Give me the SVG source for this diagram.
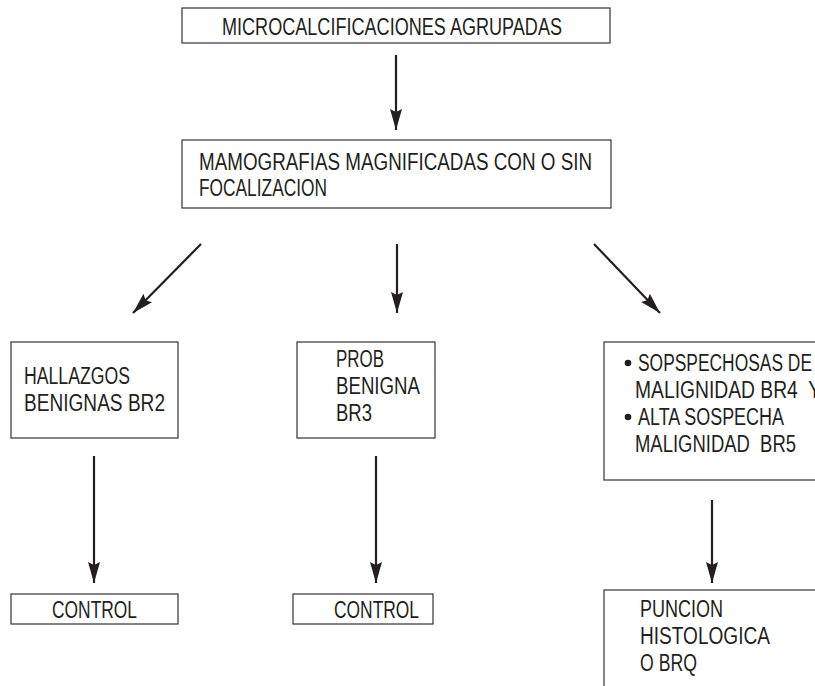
<svg xmlns="http://www.w3.org/2000/svg" width="815" height="686" viewBox="0 0 815 686">
<style>
.box{fill:#fff;stroke:#333;stroke-width:1.2}
.t{font-family:"Liberation Sans Narrow","Liberation Sans","DejaVu Sans Condensed",sans-serif;font-size:23px;fill:#231f20;white-space:pre}
.c{stroke:#231f20;stroke-width:2.2;fill:none}
</style>
<defs>
<marker id="ah" markerUnits="userSpaceOnUse" markerWidth="24" markerHeight="14" refX="21" refY="6" orient="auto">
<path d="M0,0 L21,6 L0,12 L3,6 z" fill="#231f20"/>
</marker>
</defs>
<rect width="815" height="686" fill="#fff"/>
<g id="connectors">
<line class="c" x1="396" y1="55" x2="396" y2="130" marker-end="url(#ah)"/>
<line class="c" x1="201" y1="244" x2="133" y2="313" marker-end="url(#ah)"/>
<line class="c" x1="397" y1="244" x2="397" y2="313" marker-end="url(#ah)"/>
<line class="c" x1="594" y1="244" x2="660" y2="313" marker-end="url(#ah)"/>
<line class="c" x1="94" y1="456" x2="94" y2="583" marker-end="url(#ah)"/>
<line class="c" x1="376" y1="456" x2="376" y2="583" marker-end="url(#ah)"/>
<line class="c" x1="712" y1="500" x2="712" y2="583" marker-end="url(#ah)"/>
</g>
<g id="n1">
<rect class="box" x="182" y="8" width="428" height="35"/>
<text class="t" x="222" y="35" textLength="340" lengthAdjust="spacingAndGlyphs">MICROCALCIFICACIONES AGRUPADAS</text>
</g>
<g id="n2">
<rect class="box" x="182" y="140" width="429" height="68"/>
<text class="t" x="199" y="170" textLength="393" lengthAdjust="spacingAndGlyphs">MAMOGRAFIAS MAGNIFICADAS CON O SIN</text>
<text class="t" x="199" y="196" textLength="128" lengthAdjust="spacingAndGlyphs">FOCALIZACION</text>
</g>
<g id="n3">
<rect class="box" x="11" y="342" width="167" height="96"/>
<text class="t" x="24" y="384" textLength="106" lengthAdjust="spacingAndGlyphs">HALLAZGOS</text>
<text class="t" x="24" y="411" textLength="141" lengthAdjust="spacingAndGlyphs">BENIGNAS BR2</text>
</g>
<g id="n4">
<rect class="box" x="297" y="342" width="138" height="96"/>
<text class="t" x="336" y="367" textLength="48" lengthAdjust="spacingAndGlyphs">PROB</text>
<text class="t" x="336" y="394" textLength="84" lengthAdjust="spacingAndGlyphs">BENIGNA</text>
<text class="t" x="336" y="421" textLength="36" lengthAdjust="spacingAndGlyphs">BR3</text>
</g>
<g id="n5">
<rect class="box" x="604" y="342" width="240" height="138"/>
<circle cx="628" cy="363" r="3.3" fill="#231f20"/>
<text class="t" x="638" y="371" textLength="174" lengthAdjust="spacingAndGlyphs">SOPSPECHOSAS DE</text>
<text class="t" x="635" y="398" textLength="186" lengthAdjust="spacingAndGlyphs">MALIGNIDAD BR4  Y</text>
<circle cx="628" cy="417" r="3.3" fill="#231f20"/>
<text class="t" x="638" y="425" textLength="146" lengthAdjust="spacingAndGlyphs">ALTA SOSPECHA</text>
<text class="t" x="635" y="452" textLength="161" lengthAdjust="spacingAndGlyphs">MALIGNIDAD  BR5</text>
</g>
<g id="n6">
<rect class="box" x="11" y="594" width="167" height="30"/>
<text class="t" x="52" y="618" textLength="85" lengthAdjust="spacingAndGlyphs">CONTROL</text>
</g>
<g id="n7">
<rect class="box" x="293" y="594" width="140" height="30"/>
<text class="t" x="334" y="618" textLength="85" lengthAdjust="spacingAndGlyphs">CONTROL</text>
</g>
<g id="n8">
<rect class="box" x="604" y="590" width="240" height="120"/>
<text class="t" x="640" y="617" textLength="83" lengthAdjust="spacingAndGlyphs">PUNCION</text>
<text class="t" x="640" y="644" textLength="130" lengthAdjust="spacingAndGlyphs">HISTOLOGICA</text>
<text class="t" x="640" y="671" textLength="57" lengthAdjust="spacingAndGlyphs">O BRQ</text>
</g>
</svg>
